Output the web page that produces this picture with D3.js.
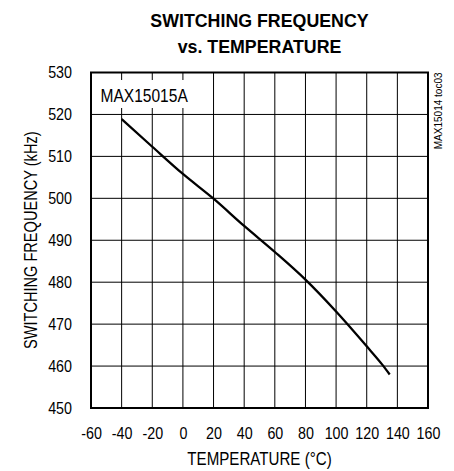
<!DOCTYPE html>
<html>
<head>
<meta charset="utf-8">
<script src="https://cdn.jsdelivr.net/npm/d3@7"></script>
<style>
  body { margin: 0; background: #fff; }
  svg { display: block; }
  text { fill: #000; }
  .narrow { font-family: 'Liberation Sans', Arial, sans-serif; }
</style>
</head>
<body>
<div class="chart"></div>
<script>
// data
const TEMPS = [-40, -20, 0, 20, 40, 60, 80, 100, 120, 130, 135];
const FREQ = [518.9, 512.3, 505.8, 499.9, 493.4, 487.2, 480.6, 473.0, 464.7, 460.4, 458.0];
const X_TICKS = [-60, -40, -20, 0, 20, 40, 60, 80, 100, 120, 140, 160];
const Y_TICKS = [450, 460, 470, 480, 490, 500, 510, 520, 530];

const WIDTH = 454, HEIGHT = 471;
const M = { top: 72.5, right: 26, bottom: 63, left: 91 };
const SQUEEZE = 0.84; // original uses a narrow face

const svg = d3.select('.chart')
  .append('svg')
  .attr('width', WIDTH)
  .attr('height', HEIGHT);

const x = d3.scaleLinear().domain([-60, 160]).range([M.left, WIDTH - M.right]);
const y = d3.scaleLinear().domain([450, 530]).range([HEIGHT - M.bottom, M.top]);

// squeeze text horizontally to fake a condensed font
function condense(sel, k) {
  sel.each(function () {
    const w = this.getComputedTextLength();
    d3.select(this)
      .attr('textLength', w * k)
      .attr('lengthAdjust', 'spacingAndGlyphs');
  });
}

// grid
const grid = svg.append('g').attr('class', 'grid');
grid.selectAll('line.v')
  .data(X_TICKS)
  .enter().append('line')
  .attr('class', 'v')
  .attr('x1', d => x(d)).attr('x2', d => x(d))
  .attr('y1', y(450)).attr('y2', y(530))
  .attr('stroke', '#000').attr('stroke-width', 1);

grid.selectAll('line.h')
  .data(Y_TICKS)
  .enter().append('line')
  .attr('class', 'h')
  .attr('x1', x(-60)).attr('x2', x(160))
  .attr('y1', d => y(d)).attr('y2', d => y(d))
  .attr('stroke', '#000').attr('stroke-width', 1);

// label box covers grid behind it
svg.append('rect')
  .attr('x', x(-60) + 1).attr('y', 80)
  .attr('width', 103).attr('height', 28)
  .attr('fill', '#fff');

svg.append('text')
  .attr('class', 'narrow')
  .attr('x', 100.5).attr('y', 102)
  .style('font-size', '18.5px')
  .text('MAX15015A')
  .call(condense, SQUEEZE);

// frame
svg.append('rect')
  .attr('x', x(-60)).attr('y', y(530))
  .attr('width', x(160) - x(-60)).attr('height', y(450) - y(530))
  .attr('fill', 'none').attr('stroke', '#000').attr('stroke-width', 2);

// axes (labels only)
const xAxis = svg.append('g')
  .attr('transform', `translate(0,${y(450)})`)
  .call(d3.axisBottom(x).tickValues(X_TICKS).tickFormat(d => String(d)).tickSize(0).tickPadding(19));
const yAxis = svg.append('g')
  .attr('transform', `translate(${x(-60)},0)`)
  .call(d3.axisLeft(y).tickValues(Y_TICKS).tickFormat(d => String(d)).tickSize(0).tickPadding(19));
[xAxis, yAxis].forEach(g => {
  g.select('.domain').remove();
  g.selectAll('text')
    .attr('class', 'narrow')
    .attr('fill', '#000')
    .style('font-size', '17px')
    .call(condense, SQUEEZE);
});

// curve
const line = d3.line()
  .x((d, i) => x(TEMPS[i]))
  .y(d => y(d))
  .curve(d3.curveMonotoneX);

svg.append('path')
  .datum(FREQ)
  .attr('d', line)
  .attr('fill', 'none')
  .attr('stroke', '#000')
  .attr('stroke-width', 2.3);

// titles
const cx = (x(-60) + x(160)) / 2;
svg.append('text')
  .attr('x', cx).attr('y', 26.5)
  .attr('text-anchor', 'middle')
  .style('font-family', "'Liberation Sans', Arial, sans-serif")
  .style('font-weight', 'bold')
  .style('font-size', '17.8px')
  .text('SWITCHING FREQUENCY');
svg.append('text')
  .attr('x', cx).attr('y', 52.5)
  .attr('text-anchor', 'middle')
  .style('font-family', "'Liberation Sans', Arial, sans-serif")
  .style('font-weight', 'bold')
  .style('font-size', '17.8px')
  .text('vs. TEMPERATURE');

svg.append('text')
  .attr('class', 'narrow')
  .attr('x', cx).attr('y', 465)
  .attr('text-anchor', 'middle')
  .style('font-size', '18px')
  .text('TEMPERATURE (°C)')
  .call(condense, SQUEEZE);

svg.append('text')
  .attr('class', 'narrow')
  .attr('transform', `translate(36.5,${(y(450) + y(530)) / 2}) rotate(-90)`)
  .attr('text-anchor', 'middle')
  .style('font-size', '18px')
  .text('SWITCHING FREQUENCY (kHz)')
  .call(condense, 0.81);

svg.append('text')
  .attr('transform', `translate(441.5,${y(530)}) rotate(-90)`)
  .attr('text-anchor', 'end')
  .style('font-family', "'Liberation Sans', Arial, sans-serif")
  .style('font-size', '10px')
  .text('MAX15014 toc03');
</script>
</body>
</html>
